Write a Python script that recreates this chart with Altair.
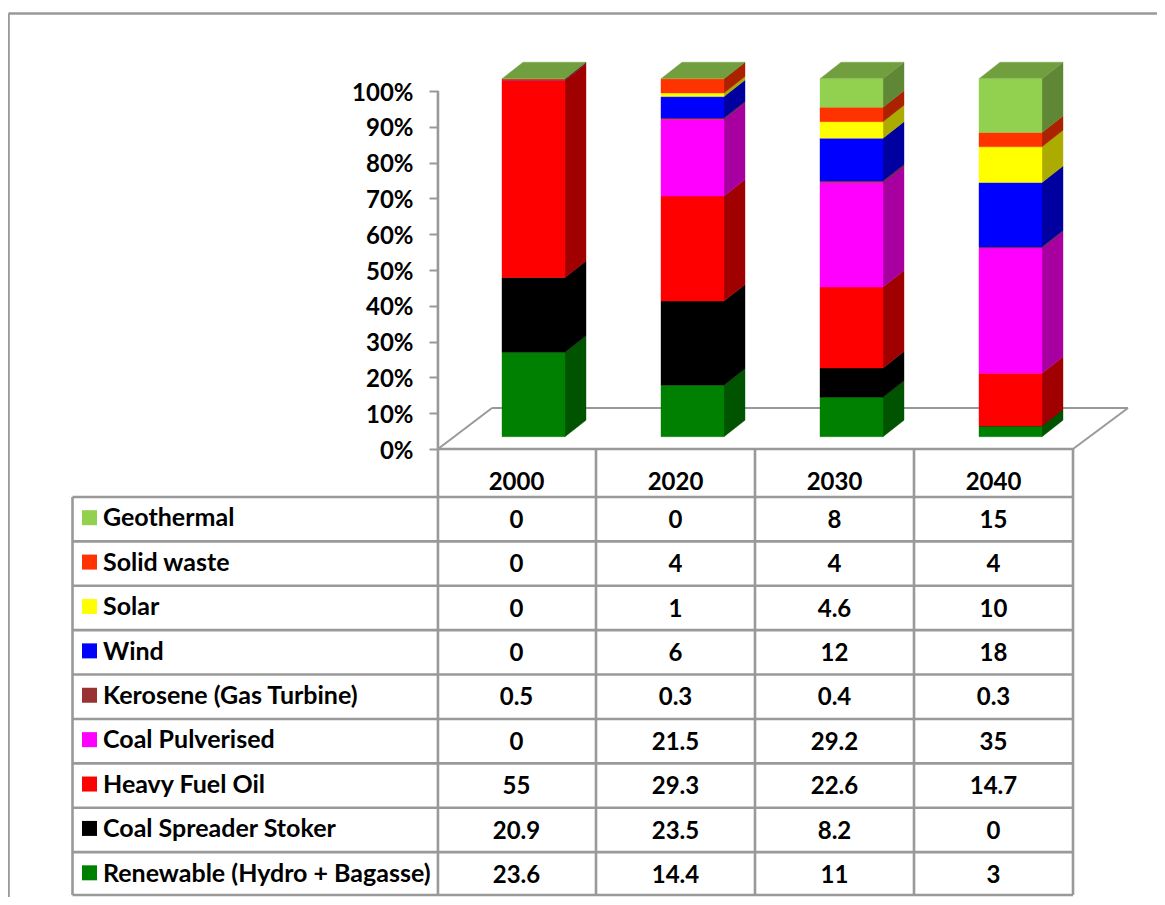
import altair as alt
import pandas as pd

years = ["2000", "2020", "2030", "2040"]
# table order, top row first
series = ["Geothermal", "Solid waste", "Solar", "Wind", "Kerosene (Gas Turbine)",
          "Coal Pulverised", "Heavy Fuel Oil", "Coal Spreader Stoker",
          "Renewable (Hydro + Bagasse)"]
geothermal = [0, 0, 8, 15]
solid_waste = [0, 4, 4, 4]
solar = [0, 1, 4.6, 10]
wind = [0, 6, 12, 18]
kerosene = [0.5, 0.3, 0.4, 0.3]
coal_pulverised = [0, 21.5, 29.2, 35]
heavy_fuel_oil = [55, 29.3, 22.6, 14.7]
coal_stoker = [20.9, 23.5, 8.2, 0]
renewable = [23.6, 14.4, 11, 3]
table = [geothermal, solid_waste, solar, wind, kerosene, coal_pulverised,
         heavy_fuel_oil, coal_stoker, renewable]
front_colors = ["#92D050", "#FF3300", "#FFFF00", "#0000FF", "#993333",
                "#FF00FF", "#FF0000", "#000000", "#008000"]
side_colors = ["#608735", "#AB2200", "#ABAB00", "#0000A0", "#662222",
               "#A800A0", "#A00000", "#000000", "#005400"]
top_color = "#719F3F"
line_color = "#999999"
FONT = "Lato"
FS = 24
FS_NAME = 25

# layout: one category column = COL px, one percent = PCT px
COL, PCT, X0, Y0 = 159.0, 3.58, 437.0, 449.0
W, H = 1149, 889
xdom = [(8 - X0) / COL, (8 + W - X0) / COL]
ydom = [(Y0 - 8 - H) / PCT, (Y0 - 8) / PCT]
xu = lambda px: (px - X0) / COL
yu = lambda py: (Y0 - py) / PCT

bar_left = 65.0 / COL
bar_w = 63.0 / COL
dx = 21.0 / COL
dy = 16.5 / PCT
base = 12.3 / PCT

bars, faces = [], []
for c, yr in enumerate(years):
    total = sum(col[c] for col in table)
    acc = base
    x0 = c + bar_left
    x1 = x0 + bar_w
    for s in reversed(range(len(series))):
        h = table[s][c] / total * 100
        bars.append(dict(x0=x0, x1=x1, y0=acc, y1=acc + h, fill=front_colors[s]))
        key = f"side-{c}-{s}"
        faces.append(dict(x=x1, y=acc, y2=acc + h, fill=side_colors[s], face=key))
        faces.append(dict(x=x1 + dx, y=acc + dy, y2=acc + h + dy, fill=side_colors[s], face=key))
        acc += h
    key = f"top-{c}"
    for x, a, b in [(x0, acc, acc), (x0 + dx, acc, acc + dy),
                    (x1, acc, acc + dy), (x1 + dx, acc + dy, acc + dy)]:
        faces.append(dict(x=x, y=a, y2=b, fill=top_color, face=key))

# row geometry of the table
ROW = 44.39
row_top = 497.0
row_center = lambda i: row_top + ROW * (i + 0.5)
row_line = lambda i: min(row_top + ROW * i, 895.0)
col_center = lambda c: c + 0.5
bottom = row_line(len(series))

segs = []
def seg(name, x0, y0, x1, y1, w):
    segs.append(dict(seg=name, o=0, x=x0, y=y0, w=w))
    segs.append(dict(seg=name, o=1, x=x1, y=y1, w=w))

# frame
seg("frame-top", xu(8.5), yu(13.5), xdom[1], yu(13.5), "a")
seg("frame-left", xu(8.5), yu(13.5), xu(8.5), ydom[0], "a")
# floor
seg("floor-back", xu(492), yu(408), xu(1128), yu(408), "b")
seg("floor-left", 0.006, 0, xu(492), yu(408), "b")
seg("floor-right", 4, 0, xu(1128), yu(408), "b")
seg("floor-front", 0, 0, 4, 0, "a")
# value axis and column lines
seg("axis", 0.006, 100, 0.006, yu(bottom), "a")
for c in range(1, 5):
    seg(f"col-{c}", c, 0, c, yu(bottom), "a")
for i in range(len(series) + 1):
    seg(f"row-{i}", xu(72.5), yu(row_line(i)), 4, yu(row_line(i)), "a")
seg("table-left", xu(72.5), yu(row_top), xu(72.5), yu(bottom), "a")

cells = []
for c, yr in enumerate(years):
    cells.append(dict(x=col_center(c), y=yu(483), t=yr))
    for i in range(len(series)):
        cells.append(dict(x=col_center(c), y=yu(row_center(i) + 1.7), t=str(table[i][c])))

names = [dict(x=xu(103), y=yu(row_center(i) - 0.8), t=series[i]) for i in range(len(series))]
swatches = [dict(x=xu(89.5), y=yu(row_center(i) - 1.5), fill=front_colors[i]) for i in range(len(series))]

X = alt.Scale(domain=xdom, nice=False, zero=False)
Y = alt.Scale(domain=ydom, nice=False, zero=False)
AXIS = alt.Axis(
    values=list(range(0, 101, 10)), labelExpr="datum.value + '%'", domain=False, grid=False,
    offset=-430, tickSize=9, tickWidth=2, tickColor=line_color,
    labelFont=FONT, labelFontWeight="bold", labelFontSize=FS, labelColor="black",
    labelPadding=16, labelOffset=2, title=None)
ex = lambda f: alt.X(f, type="quantitative", scale=X, axis=None)
ey = lambda f: alt.Y(f, type="quantitative", scale=Y, axis=AXIS, stack=None)

segdf = pd.DataFrame(segs)
line_a = alt.Chart(segdf[segdf.w == "a"]).mark_line(color=line_color, strokeWidth=2.6).encode(
    x=ex("x"), y=ey("y"), detail="seg:N", order="o:Q")
line_b = alt.Chart(segdf[segdf.w == "b"]).mark_line(color=line_color, strokeWidth=2).encode(
    x=ex("x"), y=ey("y"), detail="seg:N", order="o:Q")

face_layer = alt.Chart(pd.DataFrame(faces)).mark_area(strokeWidth=0.4, interpolate="linear").encode(
    x=ex("x"), y=ey("y"), y2="y2:Q",
    fill=alt.Fill("fill:N", scale=None), stroke=alt.Stroke("fill:N", scale=None),
    detail="face:N")
bar_layer = alt.Chart(pd.DataFrame(bars)).mark_bar(strokeWidth=0.4).encode(
    x=ex("x0"), x2="x1:Q", y=ey("y0"), y2="y1:Q",
    fill=alt.Fill("fill:N", scale=None), stroke=alt.Stroke("fill:N", scale=None))

cell_layer = alt.Chart(pd.DataFrame(cells)).mark_text(
    font=FONT, fontWeight="bold", fontSize=FS, color="black", align="center", baseline="middle"
).encode(x=ex("x"), y=ey("y"), text="t:N")
name_layer = alt.Chart(pd.DataFrame(names)).mark_text(
    font=FONT, fontWeight="bold", fontSize=FS_NAME, color="black", align="left", baseline="middle"
).encode(x=ex("x"), y=ey("y"), text="t:N")
swatch_layer = alt.Chart(pd.DataFrame(swatches)).mark_square(size=225, opacity=1).encode(
    x=ex("x"), y=ey("y"), fill=alt.Fill("fill:N", scale=None))

chart = alt.layer(line_a, line_b, face_layer, bar_layer, cell_layer, name_layer, swatch_layer).properties(
    width=W, height=H, padding=0, autosize=alt.AutoSizeParams(type="none"), background="white"
).configure_view(stroke=None)

chart.save("out.html", embed_options={"renderer": "svg", "actions": False})
